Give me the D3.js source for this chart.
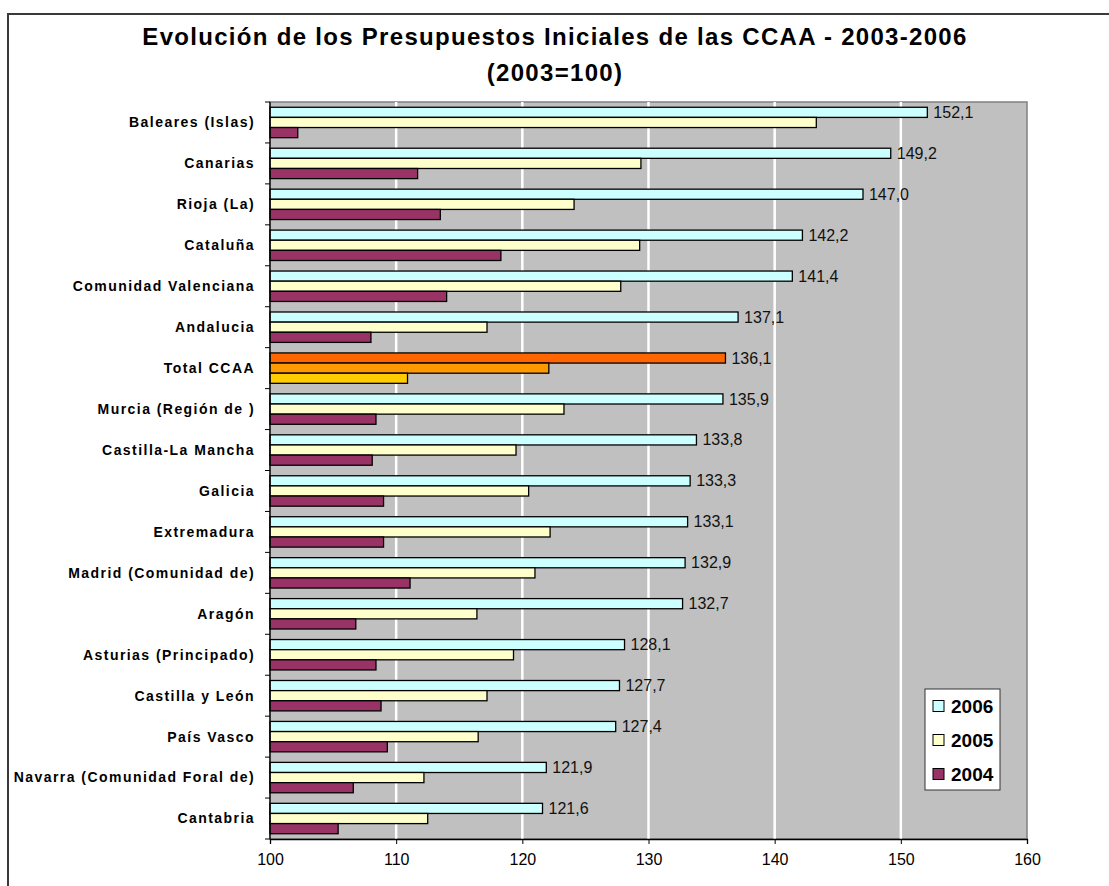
<!DOCTYPE html>
<html>
<head>
<meta charset="utf-8">
<script src="https://cdn.jsdelivr.net/npm/d3@7"></script>
<style>
	body { margin: 0; background: #fff; }
	svg { display: block; font-family: Arial, "Liberation Sans", sans-serif; }
	.cat text { font-size: 14px; font-weight: bold; letter-spacing: 1.45px; fill: #000; }
	.value { font-size: 16px; fill: #111; }
	.title { font-size: 24px; font-weight: bold; letter-spacing: 1.3px; fill: #000; }
	.legend text { font-size: 19px; font-weight: bold; fill: #000; }
</style>
</head>
<body>
<div id="chart"></div>
<script>

var categories = ["Baleares (Islas)", "Canarias", "Rioja (La)", "Cataluña", "Comunidad Valenciana",
	"Andalucia", "Total CCAA", "Murcia (Región de )", "Castilla-La Mancha", "Galicia", "Extremadura",
	"Madrid (Comunidad de)", "Aragón", "Asturias (Principado)", "Castilla y León", "País Vasco",
	"Navarra (Comunidad Foral de)", "Cantabria"];

var series = ["2006", "2005", "2004"];

var values2006 = [152.1, 149.2, 147.0, 142.2, 141.4, 137.1, 136.1, 135.9, 133.8, 133.3, 133.1,
	132.9, 132.7, 128.1, 127.7, 127.4, 121.9, 121.6];
var values2005 = [143.3, 129.4, 124.1, 129.3, 127.8, 117.2, 122.1, 123.3, 119.5, 120.5, 122.2,
	121.0, 116.4, 119.3, 117.2, 116.5, 112.2, 112.5];
var values2004 = [102.2, 111.7, 113.5, 118.3, 114.0, 108.0, 110.9, 108.4, 108.1, 109.0, 109.0,
	111.1, 106.8, 108.4, 108.8, 109.3, 106.6, 105.4];

var xTicks = [100, 110, 120, 130, 140, 150, 160];

var colors = { "2006": "#ccffff", "2005": "#ffffcc", "2004": "#993366" };
var totalColors = { "2006": "#ff6600", "2005": "#ff9900", "2004": "#ffcc00" };

var Chart = function() {

	var margin, width, height,
		x, y0, y1,
		xAxis,
		svg, plot;

	var fmt = function(v) {
		return d3.format(".1f")(v).replace(".", ",");
	};

	var initialize = function() {

		// plot area inside the 1109x886 picture
		margin = {top: 102, left: 270, right: 82, bottom: 47};
		width = 1109 - margin.left - margin.right;
		height = 886 - margin.top - margin.bottom;

		// init x and y
		x = d3.scaleLinear().domain([100, 160]).range([0, width]);
		y0 = d3.scaleBand().domain(categories).range([0, height]).padding(0);
		y1 = d3.scaleBand().domain(series).range([0, y0.bandwidth()]).paddingInner(0).paddingOuter(0.52);

		xAxis = d3.axisBottom(x).tickValues(xTicks).tickSize(5).tickPadding(10).tickFormat(d3.format("d"));

		svg = d3.select("#chart").append("svg")
		.attr("width", 1109)
		.attr("height", 886);

		// outer chart frame (cut by the picture on right and bottom)
		svg.append("rect")
		.attr("x", 8).attr("y", 14)
		.attr("width", 1300).attr("height", 1000)
		.attr("fill", "#fff")
		.attr("stroke", "#3a3a3a")
		.attr("stroke-width", 2);

		// title
		svg.append("text")
		.attr("class", "title")
		.attr("x", 555).attr("y", 45)
		.attr("text-anchor", "middle")
		.text("Evolución de los Presupuestos Iniciales de las CCAA - 2003-2006");

		svg.append("text")
		.attr("class", "title")
		.attr("x", 555).attr("y", 81)
		.attr("text-anchor", "middle")
		.text("(2003=100)");

		plot = svg.append("g")
		.attr("transform", "translate(" + margin.left + "," + margin.top + ")");

	};

	var render = function() {

		var rows = categories.map(function(c, i) {
			return {
				name: c,
				bars: [
					{key: "2006", value: values2006[i]},
					{key: "2005", value: values2005[i]},
					{key: "2004", value: values2004[i]}
				]
			};
		});

		// plot background
		plot.append("rect")
		.attr("width", width)
		.attr("height", height)
		.attr("fill", "#c0c0c0")
		.attr("stroke", "#808080")
		.attr("stroke-width", 1.5);

		// white grid lines
		plot.selectAll("line.grid")
		.data(xTicks.slice(1, -1))
		.enter()
		.append("line")
		.attr("class", "grid")
		.attr("x1", function(d) { return x(d); })
		.attr("x2", function(d) { return x(d); })
		.attr("y1", 0)
		.attr("y2", height)
		.attr("stroke", "#fff")
		.attr("stroke-width", 2.5);

		// bars
		var group = plot.selectAll("g.row")
		.data(rows)
		.enter()
		.append("g")
		.attr("class", "row")
		.attr("transform", function(d) { return "translate(0," + y0(d.name) + ")"; });

		group.selectAll("rect")
		.data(function(d) {
			return d.bars.map(function(b) { return {key: b.key, value: b.value, total: d.name === "Total CCAA"}; });
		})
		.enter()
		.append("rect")
		.attr("x", x(100))
		.attr("y", function(d) { return y1(d.key); })
		.attr("width", function(d) { return x(d.value) - x(100); })
		.attr("height", y1.bandwidth())
		.attr("fill", function(d) { return d.total ? totalColors[d.key] : colors[d.key]; })
		.attr("stroke", "#000")
		.attr("stroke-width", 1.3);

		// value labels on 2006 bars
		group.append("text")
		.attr("class", "value")
		.attr("x", function(d) { return x(d.bars[0].value) + 6; })
		.attr("y", y1("2006") + y1.bandwidth() / 2)
		.attr("dy", "0.35em")
		.text(function(d) { return fmt(d.bars[0].value); });

		// y axis: line and ticks on category boundaries
		var cat = plot.append("g").attr("class", "cat");

		cat.append("line")
		.attr("x1", 0).attr("x2", 0)
		.attr("y1", 0).attr("y2", height)
		.attr("stroke", "#000")
		.attr("stroke-width", 1.3);

		cat.selectAll("line.tick")
		.data(d3.range(categories.length + 1))
		.enter()
		.append("line")
		.attr("class", "tick")
		.attr("x1", -5).attr("x2", 0)
		.attr("y1", function(i) { return i * y0.step(); })
		.attr("y2", function(i) { return i * y0.step(); })
		.attr("stroke", "#000");

		cat.selectAll("text")
		.data(categories)
		.enter()
		.append("text")
		.attr("x", -15)
		.attr("y", function(d) { return y0(d) + y0.bandwidth() / 2; })
		.attr("dy", "0.35em")
		.attr("text-anchor", "end")
		.text(function(d) { return d; });

		// x axis
		var gx = plot.append("g")
		.attr("class", "x axis")
		.attr("transform", "translate(0," + height + ")")
		.attr("font-size", 16)
		.attr("font-family", "Arial, 'Liberation Sans', sans-serif")
		.call(xAxis);

		gx.attr("font-size", 16);
		gx.select(".domain").attr("stroke", "#000").attr("stroke-width", 1.3);
		gx.selectAll(".tick line").attr("stroke", "#000");
		gx.selectAll(".tick text")
		.attr("font-size", 16)
		.attr("fill", "#000");

		// legend
		var legend = svg.append("g")
		.attr("class", "legend")
		.attr("transform", "translate(925,689)");

		legend.append("rect")
		.attr("width", 75)
		.attr("height", 101)
		.attr("fill", "#fff")
		.attr("stroke", "#333");

		var item = legend.selectAll("g.item")
		.data(series)
		.enter()
		.append("g")
		.attr("class", "item")
		.attr("transform", function(d, i) { return "translate(8," + (17 + i * 34) + ")"; });

		item.append("rect")
		.attr("x", 0).attr("y", -5.5)
		.attr("width", 11).attr("height", 11)
		.attr("fill", function(d) { return colors[d]; })
		.attr("stroke", "#000");

		item.append("text")
		.attr("x", 18)
		.attr("dy", "0.36em")
		.text(function(d) { return d; });

	};

	return {
		initialize: initialize,
		render: render
	};

};

var chart = Chart();
chart.initialize();
chart.render();

</script>
</body>
</html>
